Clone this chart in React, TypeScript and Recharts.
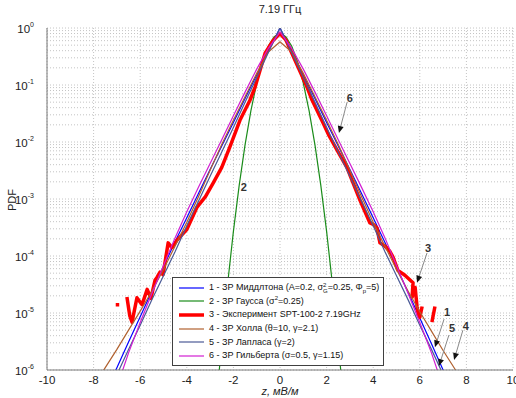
import React from "react";
import {
  LineChart,
  Line,
  XAxis,
  YAxis,
  CartesianGrid,
  ReferenceLine,
  ReferenceDot,
} from "recharts";

// shared z grid for the model curves
const Z = [
  -8, -7.5, -7, -6.5, -6, -5.5, -5, -4.5, -4, -3.5, -3, -2.5, -2, -1.5, -1, -0.5, 0,
  0.5, 1, 1.5, 2, 2.5, 3, 3.5, 4, 4.5, 5, 5.5, 6, 6.5, 7, 7.5, 8,
];

// 1 - Middleton
const MIDDLETON = [
  1.3e-7, 4e-7, 1.1e-6, 3.1e-6, 8.6e-6, 2.4e-5, 6.5e-5, 1.8e-4, 4.7e-4, 1.25e-3, 3.3e-3, 8.5e-3, 0.022, 0.058, 0.15, 0.4, 1.0,
  0.4, 0.15, 0.058, 0.022, 8.5e-3, 3.3e-3, 1.25e-3, 4.7e-4, 1.75e-4, 6.4e-5, 2.3e-5, 8.2e-6, 2.9e-6, 1.0e-6, 3.5e-7, 1.2e-7,
];
// 4 - Hall
const HALL = [
  5.2e-7, 1.1e-6, 2.3e-6, 5e-6, 1.08e-5, 2.4e-5, 5.8e-5, 1.5e-4, 3.9e-4, 1.1e-3, 3.2e-3, 9e-3, 0.024, 0.062, 0.16, 0.38, 0.57,
  0.38, 0.16, 0.062, 0.024, 9e-3, 3.2e-3, 1.1e-3, 3.9e-4, 1.5e-4, 5.8e-5, 2.4e-5, 1.05e-5, 4.8e-6, 2.2e-6, 1.05e-6, 5e-7,
];
// 5 - Laplace
const LAPLACE = [
  1.1e-7, 3e-7, 8.3e-7, 2.3e-6, 6.1e-6, 1.7e-5, 4.5e-5, 1.2e-4, 3.4e-4, 9.1e-4, 2.5e-3, 6.7e-3, 0.018, 0.05, 0.135, 0.37, 1,
  0.37, 0.135, 0.05, 0.018, 6.7e-3, 2.5e-3, 9.1e-4, 3.4e-4, 1.2e-4, 4.5e-5, 1.7e-5, 6.1e-6, 2.3e-6, 8.3e-7, 3e-7, 1.1e-7,
];
// 6 - Gilbert
const GILBERT = [
  2.8e-8, 1.2e-7, 5e-7, 2e-6, 6.8e-6, 2.2e-5, 6.8e-5, 2.1e-4, 6e-4, 1.6e-3, 4.2e-3, 0.011, 0.029, 0.075, 0.19, 0.44, 0.85,
  0.44, 0.19, 0.075, 0.029, 0.011, 4.2e-3, 1.6e-3, 6e-4, 2.1e-4, 6.8e-5, 2.2e-5, 6.8e-6, 2e-6, 5e-7, 1.2e-7, 2.8e-8,
];

// 2 - Gauss, finer grid
const GAUSS_Z = [-3, -2.75, -2.5, -2.25, -2, -1.75, -1.5, -1.25, -1, -0.75, -0.5, -0.25, 0, 0.25, 0.5, 0.75, 1, 1.25, 1.5, 1.75, 2, 2.25, 2.5, 2.75, 3];
const GAUSS = [
  1.2e-8, 2.2e-7, 3e-6, 3.2e-5, 2.7e-4, 1.75e-3, 8.9e-3, 0.0352, 0.108, 0.26, 0.484, 0.704, 0.8,
  0.704, 0.484, 0.26, 0.108, 0.0352, 8.9e-3, 1.75e-3, 2.7e-4, 3.2e-5, 3e-6, 2.2e-7, 1.2e-8,
];

// 3 - experiment (null = gap)
const EXP_Z = [
  -7.05, -6.9, -6.8,
  -6.57, -6.45, -6.35, -6.14, -5.92, -5.7, -5.54, -5.36, -5.28, -5.15, -5.02, -4.8, -4.64, -4.42, -4.0, -3.56, -3.2, -2.87,
  -2.5, -2.15, -1.72, -1.29, -1.07, -0.64, -0.3, 0, 0.25, 0.51, 1.16, 1.37, 1.85, 2.1, 2.45, 2.87, 3.43, 3.86, 4.0, 4.16,
  4.29, 4.5, 4.72, 4.85, 5.06, 5.36, 5.58, 5.71, 5.67, 5.8, 5.88, 5.95, 6.0, 6.1, 6.3,
  6.52, 6.65,
];
const EXP_PDF = [
  1.4e-5, 1.4e-5, null,
  1.9e-5, 9e-6, 6.9e-6, 1.85e-5, 1.4e-5, 2.6e-5, 1.8e-5, 3.8e-5, 4.2e-5, 5.2e-5, 4.7e-5, 1.7e-4, 1.4e-4, 1.9e-4, 2.9e-4, 7.2e-4, 1.1e-3, 1.9e-3,
  3.6e-3, 8.2e-3, 0.024, 0.054, 0.092, 0.36, 0.6, 0.8, 0.62, 0.36, 0.092, 0.055, 0.0215, 0.013, 7.2e-3, 3.6e-3, 9.6e-4, 3.8e-4, 3.6e-4, 3.1e-4,
  1.7e-4, 1.5e-4, 1.2e-4, 9.6e-5, 5.6e-5, 4.6e-5, 3.8e-5, 3.4e-5, 1.9e-5, 2.8e-5, 1.3e-5, 9e-6, 8.4e-6, 1.3e-5, null,
  6.9e-6, 1.3e-5,
];

const X_TICKS = [-10, -8, -6, -4, -2, 0, 2, 4, 6, 8, 10];
const Y_TICKS = [1e-6, 1e-5, 1e-4, 1e-3, 1e-2, 1e-1, 1];

// annotations
const NOTE_TEXT = ["6", "2", "3", "1", "5", "4"];
const NOTE_Z = [3.0, -1.55, 6.35, 7.17, 7.38, 7.98];
const NOTE_PDF = [0.059, 1.62e-3, 1.38e-4, 1.04e-5, 5.5e-6, 5.9e-6];
const ARROW_FROM_Z = [2.88, 6.31, 7.04, 7.25, 7.85];
const ARROW_FROM_PDF = [0.05, 1.13e-4, 7.8e-6, 4.1e-6, 5e-6];
const ARROW_TO_Z = [2.53, 5.88, 6.65, 6.82, 7.47];
const ARROW_TO_PDF = [0.0144, 3.4e-5, 2.5e-6, 1.17e-6, 1.5e-6];

const toRows = (zs: number[], ys: (number | null)[]) => zs.map((z, i) => ({ z, pdf: ys[i] }));

const minorLines: number[] = [];
for (let e = -6; e < 0; e++) {
  for (let m = 2; m <= 9; m++) minorLines.push(m * Math.pow(10, e));
}

const FONT = 'Arial, "Liberation Sans", sans-serif';

const YTick = (props: any) => {
  const { x, y, payload } = props;
  const exp = Math.round(Math.log10(payload.value));
  return (
    <text x={x - 5} y={y + 5} textAnchor="end" fontSize={11.5} fill="#222" fontFamily={FONT}>
      10
      <tspan dy={-6} fontSize={7}>
        {exp}
      </tspan>
    </text>
  );
};

const XTick = (props: any) => {
  const { x, y, payload } = props;
  return (
    <text x={x} y={y + 6} textAnchor="middle" fontSize={11.5} fill="#222" fontFamily={FONT}>
      {payload.value}
    </text>
  );
};

const Arrow = (p: any) => {
  const { x1, y1, x2, y2 } = p;
  const a = Math.atan2(y2 - y1, x2 - x1);
  const L = 7;
  const W = 3;
  const bx = x2 - L * Math.cos(a);
  const by = y2 - L * Math.sin(a);
  const px = -Math.sin(a) * W;
  const py = Math.cos(a) * W;
  return (
    <g>
      <line x1={x1} y1={y1} x2={bx} y2={by} stroke="#8a8a8a" strokeWidth={1} />
      <polygon points={`${x2},${y2} ${bx + px},${by + py} ${bx - px},${by - py}`} fill="#111" />
    </g>
  );
};

const SERIES = [
  { color: "#0000ff", width: 1.2 },
  { color: "#1a8c1a", width: 1.2 },
  { color: "#ff0000", width: 3.5 },
  { color: "#b0602e", width: 1.2 },
  { color: "#4a5a96", width: 1.2 },
  { color: "#d21ed2", width: 1.2 },
];

const LegendRow = ({ color, width, children }: any) => (
  <div style={{ display: "flex", alignItems: "center", height: 13.6, whiteSpace: "nowrap" }}>
    <svg width={29} height={6} style={{ marginLeft: 6, marginRight: 1, flex: "none" }}>
      <line x1={0} y1={3} x2={25} y2={3} stroke={color} strokeWidth={width} />
    </svg>
    <span>{children}</span>
  </div>
);

const Stack = ({ sup, sub }: any) => (
  <span style={{ display: "inline-flex", flexDirection: "column", fontSize: 6, lineHeight: "6px", verticalAlign: "middle" }}>
    <span>{sup}</span>
    <span>{sub}</span>
  </span>
);

export default function App() {
  return (
    <div style={{ position: "absolute", left: 0, top: 0, width: 516, height: 398, background: "#fff", fontFamily: FONT, overflow: "hidden" }}>
      <LineChart width={516} height={398} margin={{ top: 28, right: 3, bottom: 0, left: 0 }}>
        <CartesianGrid stroke="#c4c4c4" strokeDasharray="1 2" />
        {minorLines.map((v) => (
          <ReferenceLine key={v} y={v} stroke="#c4c4c4" strokeDasharray="1 2" />
        ))}
        <XAxis
          dataKey="z"
          type="number"
          domain={[-10, 10]}
          ticks={X_TICKS}
          allowDataOverflow
          height={28}
          stroke="#7a7a7a"
          tickLine={false}
          tick={<XTick />}
          interval={0}
        />
        <XAxis xAxisId="top" orientation="top" dataKey="z" type="number" domain={[-10, 10]} height={0} tick={false} tickLine={false} stroke="#7a7a7a" />
        <YAxis
          type="number"
          scale="log"
          domain={[1e-6, 1]}
          ticks={Y_TICKS}
          allowDataOverflow
          width={47}
          stroke="#7a7a7a"
          tickLine={false}
          tick={<YTick />}
          interval={0}
        />
        <YAxis yAxisId="right" orientation="right" type="number" scale="log" domain={[1e-6, 1]} width={0} tick={false} tickLine={false} stroke="#7a7a7a" />

        <Line data={toRows(Z, MIDDLETON)} dataKey="pdf" stroke={SERIES[0].color} strokeWidth={SERIES[0].width} dot={false} isAnimationActive={false} />
        <Line data={toRows(GAUSS_Z, GAUSS)} dataKey="pdf" stroke={SERIES[1].color} strokeWidth={SERIES[1].width} dot={false} isAnimationActive={false} />
        <Line data={toRows(EXP_Z, EXP_PDF)} dataKey="pdf" stroke={SERIES[2].color} strokeWidth={SERIES[2].width} dot={false} strokeLinejoin="round" isAnimationActive={false} />
        <Line data={toRows(Z, HALL)} dataKey="pdf" stroke={SERIES[3].color} strokeWidth={SERIES[3].width} dot={false} isAnimationActive={false} />
        <Line data={toRows(Z, LAPLACE)} dataKey="pdf" stroke={SERIES[4].color} strokeWidth={SERIES[4].width} dot={false} isAnimationActive={false} />
        <Line data={toRows(Z, GILBERT)} dataKey="pdf" stroke={SERIES[5].color} strokeWidth={SERIES[5].width} dot={false} isAnimationActive={false} />

        {ARROW_FROM_Z.map((z, i) => (
          <ReferenceLine
            key={"a" + i}
            segment={[
              { x: z, y: ARROW_FROM_PDF[i] },
              { x: ARROW_TO_Z[i], y: ARROW_TO_PDF[i] },
            ]}
            shape={Arrow}
          />
        ))}
        {NOTE_TEXT.map((t, i) => (
          <ReferenceDot
            key={"n" + i}
            x={NOTE_Z[i]}
            y={NOTE_PDF[i]}
            r={0}
            shape={(p: any) => (
              <text x={p.cx} y={p.cy + 4} textAnchor="middle" fontSize={11} fontWeight="bold" fill="#333" fontFamily={FONT}>
                {t}
              </text>
            )}
          />
        ))}
      </LineChart>

      <div style={{ position: "absolute", left: 0, width: 560, top: 3, textAlign: "center", fontSize: 11, color: "#222" }}>7.19 ГГц</div>
      <div style={{ position: "absolute", left: 12, top: 200, fontSize: 11, color: "#222", transform: "translate(-50%,-50%) rotate(-90deg)", whiteSpace: "nowrap" }}>
        PDF
      </div>
      <div style={{ position: "absolute", left: 0, width: 560, top: 385, textAlign: "center", fontSize: 11, lineHeight: "13px", fontStyle: "italic", color: "#222" }}>
        z, мВ/м
      </div>

      <div
        style={{
          position: "absolute",
          left: 172,
          top: 277,
          width: 212,
          height: 89,
          border: "1px solid #404040",
          background: "#fff",
          fontSize: 9,
          color: "#111",
          paddingTop: 3,
          boxSizing: "border-box",
          lineHeight: "11px",
          overflow: "hidden",
        }}
      >
        <LegendRow color={SERIES[0].color} width={SERIES[0].width}>
          1 - ЗР Миддлтона (A=0.2, σ<Stack sup="2" sub="G" />=0.25, Φ<sub style={{ fontSize: 6, lineHeight: 0 }}>p</sub>=5)
        </LegendRow>
        <LegendRow color={SERIES[1].color} width={SERIES[1].width}>
          2 - ЗР Гаусса (σ<sup style={{ fontSize: 6, lineHeight: 0 }}>2</sup>=0.25)
        </LegendRow>
        <LegendRow color={SERIES[2].color} width={SERIES[2].width}>
          3 - Эксперимент SPT-100-2 7.19GHz
        </LegendRow>
        <LegendRow color={SERIES[3].color} width={SERIES[3].width}>
          4 - ЗР Холла (θ=10, γ=2.1)
        </LegendRow>
        <LegendRow color={SERIES[4].color} width={SERIES[4].width}>
          5 - ЗР Лапласа (γ=2)
        </LegendRow>
        <LegendRow color={SERIES[5].color} width={SERIES[5].width}>
          6 - ЗР Гильберта (σ=0.5, γ=1.15)
        </LegendRow>
      </div>
    </div>
  );
}
